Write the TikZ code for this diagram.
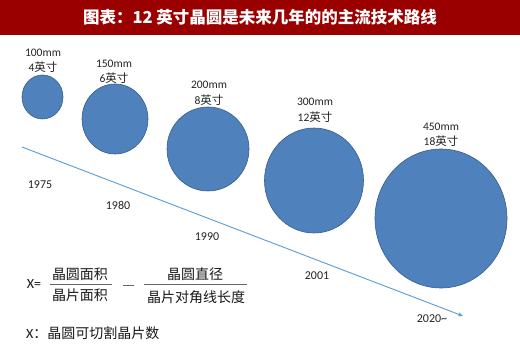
\documentclass[tikz,border=0pt]{standalone}
\usepackage{fontspec}
\setmainfont{Carlito}
\newfontfamily\cjk{Noto Sans CJK SC}
\usetikzlibrary{shapes.geometric,arrows.meta}
\definecolor{titlered}{RGB}{155,0,0}
\definecolor{wafer}{RGB}{79,129,189}
\definecolor{waferedge}{RGB}{56,93,138}
\definecolor{arrowblue}{RGB}{91,155,213}
\definecolor{txt}{RGB}{35,35,35}
\tikzset{
  wafernode/.style={ellipse,fill=wafer,draw=waferedge,line width=0.6pt,inner sep=0pt},
  lbl/.style={font=\fontsize{11.5}{13}\selectfont,text=txt,inner sep=0pt,align=center},
  yr/.style={font=\fontsize{12}{14}\selectfont,text=txt,inner sep=0pt},
  fml/.style={font=\fontsize{14}{16}\selectfont,text=black!90,inner sep=0pt},
  fbar/.style={draw=black!60,line width=0.6pt},
}
\begin{document}
\begin{tikzpicture}[x=1pt,y=-1pt]
\useasboundingbox (0,0) rectangle (520,363);
\fill[white] (0,0) rectangle (520,363);
\fill[titlered] (0,0) rectangle (520,35);
\node[font=\cjk\bfseries\fontsize{16.5}{18}\selectfont,text=white,inner sep=0pt] (title) at (260,17.5) {图表：12 英寸晶圆是未来几年的的主流技术路线};

% timeline arrow
\coordinate (as) at (22,147);
\coordinate (ae) at (463,316);
\draw[arrowblue,line width=0.9pt,-{Stealth[length=5pt,width=4pt]}] (as) -- (ae);

% wafers
\node[wafernode,minimum width=41pt,minimum height=44pt] (w1) at (42.5,97) {};
\node[wafernode,minimum width=66pt,minimum height=70pt] (w2) at (115,119) {};
\node[wafernode,minimum width=82pt,minimum height=84pt] (w3) at (208,149) {};
\node[wafernode,minimum width=99pt,minimum height=105pt] (w4) at (314,180.5) {};
\node[wafernode,minimum width=132pt,minimum height=139pt] (w5) at (441,218.5) {};

% size labels
\node[lbl] (l1a) at (43,53) {100mm};
\node[lbl] (l1b) at (43,67) {4{\cjk 英寸}};
\node[lbl] (l2a) at (114,64) {150mm};
\node[lbl] (l2b) at (114,78) {6{\cjk 英寸}};
\node[lbl] (l3a) at (209,85) {200mm};
\node[lbl] (l3b) at (209,100) {8{\cjk 英寸}};
\node[lbl] (l4a) at (315,102) {300mm};
\node[lbl] (l4b) at (315,117) {12{\cjk 英寸}};
\node[lbl] (l5a) at (441,127) {450mm};
\node[lbl] (l5b) at (441,141) {18{\cjk 英寸}};

% years
\node[yr] (y1) at (40,185) {1975};
\node[yr] (y2) at (118,205) {1980};
\node[yr] (y3) at (207,237) {1990};
\node[yr] (y4) at (317,276) {2001};
\node[yr] (y5) at (432,319) {2020\textasciitilde};

% formula
\node[fml,font=\fontsize{14}{16}\selectfont] (xeq) at (34,284) {X=};
\node[fml,font=\cjk\fontsize{14}{16}\selectfont] (n1) at (80,274) {晶圆面积};
\node[fml,font=\cjk\fontsize{14}{16}\selectfont] (d1) at (80,295) {晶片面积};
\draw[fbar] (50,284) -- (112,284);
\draw[fbar] (123,285) -- (134,285);
\node[fml,font=\cjk\fontsize{14}{16}\selectfont] (n2) at (195,274) {晶圆直径};
\node[fml,font=\cjk\fontsize{14}{16}\selectfont] (d2) at (196,297) {晶片对角线长度};
\draw[fbar] (144,284) -- (247,284);
\node[fml,font=\fontsize{14}{16}\selectfont,anchor=west] (def) at (26,333) {X{\cjk ：晶圆可切割晶片数}};
\end{tikzpicture}
\end{document}
